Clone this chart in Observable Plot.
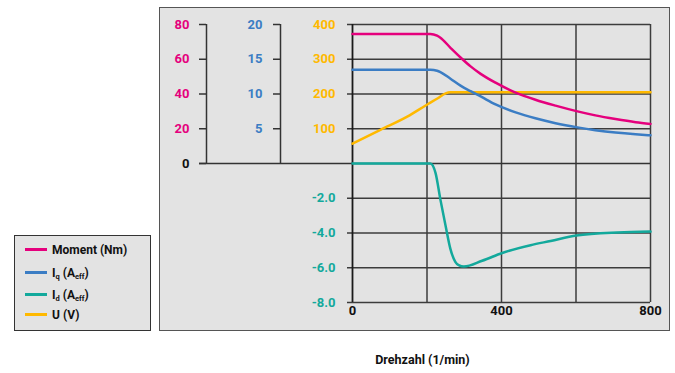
<!DOCTYPE html>
<html>
<head>
<meta charset="utf-8">
<script src="https://cdn.jsdelivr.net/npm/d3@7"></script>
<script src="https://cdn.jsdelivr.net/npm/@observablehq/plot@0.6"></script>
<style>
  body { margin: 0; background: #fff; font-family: Roboto, "DejaVu Sans", sans-serif; }
  #wrap { position: relative; width: 675px; height: 373px; overflow: hidden; }
  #panel { position: absolute; left: 159px; top: 7px; width: 511px; height: 324px; box-sizing: border-box;
           background: #e3e3e3; border: 1.5px solid #555; }
  #legend { position: absolute; left: 14px; top: 235px; width: 137px; height: 96px; box-sizing: border-box;
            background: #e3e3e3; border: 1.5px solid #333; font-weight: bold; font-size: 12px; color: #111; }
  .row { position: absolute; left: 10px; height: 16px; line-height: 16px; white-space: nowrap; }
  .sw { display: inline-block; width: 22px; height: 3px; vertical-align: middle; margin-right: 5px; position: relative; top: -1px; }
  .row sub { font-size: 7.5px; vertical-align: -2px; line-height: 0; }
  #chart { position: absolute; left: 0; top: 0; }
</style>
</head>
<body>
<div id="wrap">
  <div id="panel"></div>
  <div id="chart"></div>
  <div id="legend"></div>
</div>
<script>
// ---- data ----
const seriesNames = ["Moment (Nm)", "Iq (Aeff)", "Id (Aeff)", "U (V)"];
const colors = { moment: "#e5007d", iq: "#3b7dc4", id: "#13a99c", u: "#ffb900" };

const momentRpm = [0, 100, 200, 209, 227, 236, 263, 290, 317, 344, 384, 438, 491, 545, 604, 652, 706, 760, 800];
const moment    = [74.6, 74.6, 74.6, 74.6, 73.6, 72.4, 66.6, 61.0, 55.9, 51.6, 46.5, 40.8, 36.7, 33.3, 30.0, 27.7, 25.6, 23.8, 22.8];

const iqRpm = [0, 100, 200, 209, 227, 236, 263, 290, 317, 344, 384, 438, 491, 545, 604, 652, 706, 760, 800];
const iq    = [13.5, 13.5, 13.5, 13.5, 13.35, 13.15, 12.2, 11.2, 10.4, 9.65, 8.5, 7.35, 6.5, 5.8, 5.2, 4.8, 4.45, 4.2, 4.06];

const idRpm = [0, 100, 200, 209, 223, 236, 250, 263, 276, 285, 299, 348, 402, 478, 532, 601, 711, 800];
const id    = [0, 0, 0, 0, -0.55, -2.08, -3.6, -4.93, -5.66, -5.85, -5.93, -5.6, -5.15, -4.7, -4.46, -4.15, -3.97, -3.92];

const uRpm = [0, 75, 147, 204, 228, 250, 262, 400, 600, 800];
const u    = [57, 97, 135, 172, 187, 202, 205, 205, 205, 205];

// tick labels
const xTicks = [0, 400, 800];
const xGrid = [200, 400, 600, 800];
const momentTicks = [0, 20, 40, 60, 80];
const iqTicks = [5, 10, 15, 20];
const uTicks = [100, 200, 300, 400];
const idTicks = [-2, -4, -6, -8];

// each series is drawn on a shared vertical scale expressed in Moment units
const kIq = 80 / 20, kU = 80 / 400, kId = 80 / 8;

const pts = (xs, ys, k) => xs.map((r, i) => ({ r, v: ys[i] * k }));

const gridY = [...momentTicks.filter(d => d !== 0), ...idTicks.map(d => d * kId)];

const bold = { fontWeight: "bold", fontSize: 13 };

const chart = Plot.plot({
  width: 675, height: 373,
  marginLeft: 352, marginRight: 25, marginTop: 24, marginBottom: 71,
  style: { background: "transparent", fontFamily: "Roboto, 'DejaVu Sans', sans-serif", overflow: "visible" },
  x: { domain: [0, 800], axis: null },
  y: { domain: [-80, 80], axis: null },
  marks: [
    // grid (extends 5px left as ticks)
    Plot.ruleY(gridY, { stroke: "#3c3c3c", strokeWidth: 1.5, insetLeft: -5 }),
    Plot.ruleX(xGrid, { stroke: "#3c3c3c", strokeWidth: 1.5 }),
    // zero line reaching the moment axis
    Plot.ruleY([0], { stroke: "#333", strokeWidth: 1.5, insetLeft: -153 }),
    // main vertical axis
    Plot.ruleX([0], { stroke: "#1a1a1a", strokeWidth: 1.8 }),
    // moment axis (left)
    Plot.ruleX([0], { y1: 0, y2: d3.max(momentTicks), dx: -146, stroke: "#333", strokeWidth: 1.5 }),
    Plot.ruleY(momentTicks, { stroke: "#333", strokeWidth: 1.5, insetLeft: -153, insetRight: 444 }),
    Plot.text(momentTicks, { y: d => d, frameAnchor: "left", dx: -163, textAnchor: "end",
      fill: d => d === 0 ? "#111" : colors.moment, text: d => String(d), ...bold }),
    // Iq axis
    Plot.ruleX([0], { y1: 0, y2: d3.max(iqTicks) * kIq, dx: -72, stroke: "#333", strokeWidth: 1.5 }),
    Plot.ruleY(iqTicks, { y: d => d * kIq, stroke: "#333", strokeWidth: 1.5, insetLeft: -79, insetRight: 370 }),
    Plot.text(iqTicks, { y: d => d * kIq, frameAnchor: "left", dx: -90, textAnchor: "end",
      fill: colors.iq, text: d => String(d), ...bold }),
    // U axis labels
    Plot.text(uTicks, { y: d => d * kU, frameAnchor: "left", dx: -17, textAnchor: "end",
      fill: colors.u, text: d => String(d), ...bold }),
    // Id axis labels
    Plot.text(idTicks, { y: d => d * kId, frameAnchor: "left", dx: -17, textAnchor: "end",
      fill: colors.id, text: d => d.toFixed(1), ...bold }),
    // x tick labels
    Plot.text(xTicks, { x: d => d, frameAnchor: "bottom", dy: 12, fill: "#111", text: d => String(d), ...bold }),
    // x title
    Plot.text(["Drehzahl (1/min)"], { frameAnchor: "bottom-left", dx: 70, dy: 61, textAnchor: "middle",
      fill: "#111", fontWeight: "bold", fontSize: 12.5 }),
    // series
    Plot.line(pts(uRpm, u, kU), { x: "r", y: "v", stroke: colors.u, strokeWidth: 2.5, curve: "monotone-x" }),
    Plot.line(pts(idRpm, id, kId), { x: "r", y: "v", stroke: colors.id, strokeWidth: 2.5, curve: "monotone-x" }),
    Plot.line(pts(iqRpm, iq, kIq), { x: "r", y: "v", stroke: colors.iq, strokeWidth: 2.5, curve: "monotone-x" }),
    Plot.line(pts(momentRpm, moment, 1), { x: "r", y: "v", stroke: colors.moment, strokeWidth: 2.5, curve: "monotone-x" })
  ]
});
document.getElementById("chart").append(chart);

// legend
const legendItems = [
  { c: colors.moment, html: "Moment (Nm)" },
  { c: colors.iq, html: "I<sub>q</sub> (A<sub>eff</sub>)" },
  { c: colors.id, html: "I<sub>d</sub> (A<sub>eff</sub>)" },
  { c: colors.u, html: "U (V)" }
];
const rowTops = [6, 29, 51, 71];
const lg = document.getElementById("legend");
legendItems.forEach((it, i) => {
  const row = document.createElement("div");
  row.className = "row";
  row.style.top = rowTops[i] + "px";
  row.innerHTML = `<span class="sw" style="background:${it.c}"></span>${it.html}`;
  lg.append(row);
});
</script>
</body>
</html>
